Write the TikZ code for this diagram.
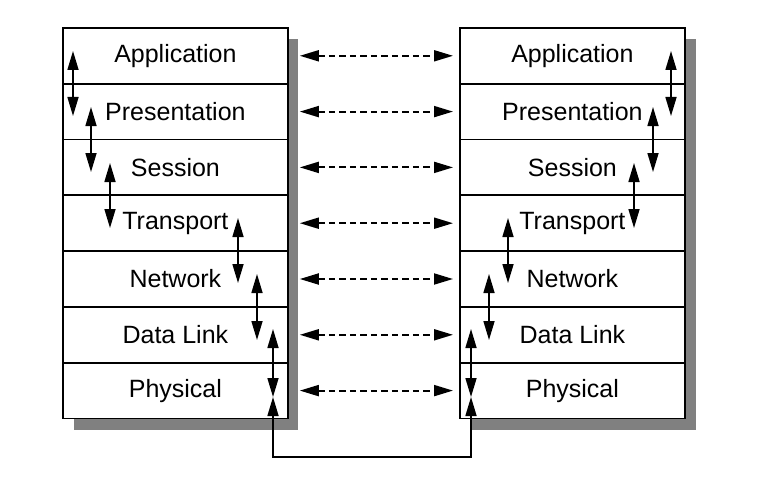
\documentclass[tikz,border=0pt]{standalone}
\usepackage{fontspec}
\setmainfont{Liberation Sans}
\usetikzlibrary{arrows.meta}
\begin{document}
\begin{tikzpicture}[x=1pt,y=-1pt,
  >={Triangle[length=19pt,width=11pt]},
  layer/.style={draw=black, line width=1.8pt, fill=white, minimum width=225pt,
    minimum height=55.8pt, inner sep=0pt, font=\fontsize{25}{29}\selectfont, anchor=north west},
  shadowbox/.style={fill=black!50, draw=none},
  updown/.style={<->, line width=1.6pt},
  peer/.style={<->, line width=1.9pt, dash pattern=on 6.5pt off 4pt}]
\useasboundingbox (0,0) rectangle (762,492);
% shadows
\fill[shadowbox] (74,39) rectangle (298,430);
\fill[shadowbox] (471,39) rectangle (696,430);
% layers
\foreach \n/\t [count=\i from 0] in {1/Application,2/Presentation,3/Session,4/Transport,5/Network,6/Data Link,7/Physical}{
  \node[layer] (L\n) at (62,27+55.8*\i) {\t};
  \node[layer] (R\n) at (459,27+55.8*\i) {\t};
}
% peer arrows
\foreach \n in {1,...,7}{
  \draw[peer] ([xshift=11pt]L\n.east) -- ([xshift=-6pt]R\n.west);
}
% left stack vertical arrows
\coordinate (la1) at (73,51);  \coordinate (lb1) at (73,116);
\coordinate (la2) at (91,107); \coordinate (lb2) at (91,172);
\coordinate (la3) at (110,163); \coordinate (lb3) at (110,228);
\coordinate (la4) at (238,218); \coordinate (lb4) at (238,283);
\coordinate (la5) at (257,274); \coordinate (lb5) at (257,340);
\coordinate (la6) at (273,329); \coordinate (lb6) at (273,397);
% right stack vertical arrows
\coordinate (ra1) at (671,51);  \coordinate (rb1) at (671,116);
\coordinate (ra2) at (653,107); \coordinate (rb2) at (653,172);
\coordinate (ra3) at (634,163); \coordinate (rb3) at (634,228);
\coordinate (ra4) at (508,218); \coordinate (rb4) at (508,283);
\coordinate (ra5) at (489,274); \coordinate (rb5) at (489,340);
\coordinate (ra6) at (471,329); \coordinate (rb6) at (471,397);
\foreach \k in {1,...,6}{
  \draw[updown] (la\k) -- (lb\k);
  \draw[updown] (ra\k) -- (rb\k);
}
% physical link
\coordinate (lbot) at (273,457);
\coordinate (rbot) at (471,457);
\draw[updown] (lb6) -- (lbot) -- (rbot) -- (rb6);
\end{tikzpicture}
\end{document}
